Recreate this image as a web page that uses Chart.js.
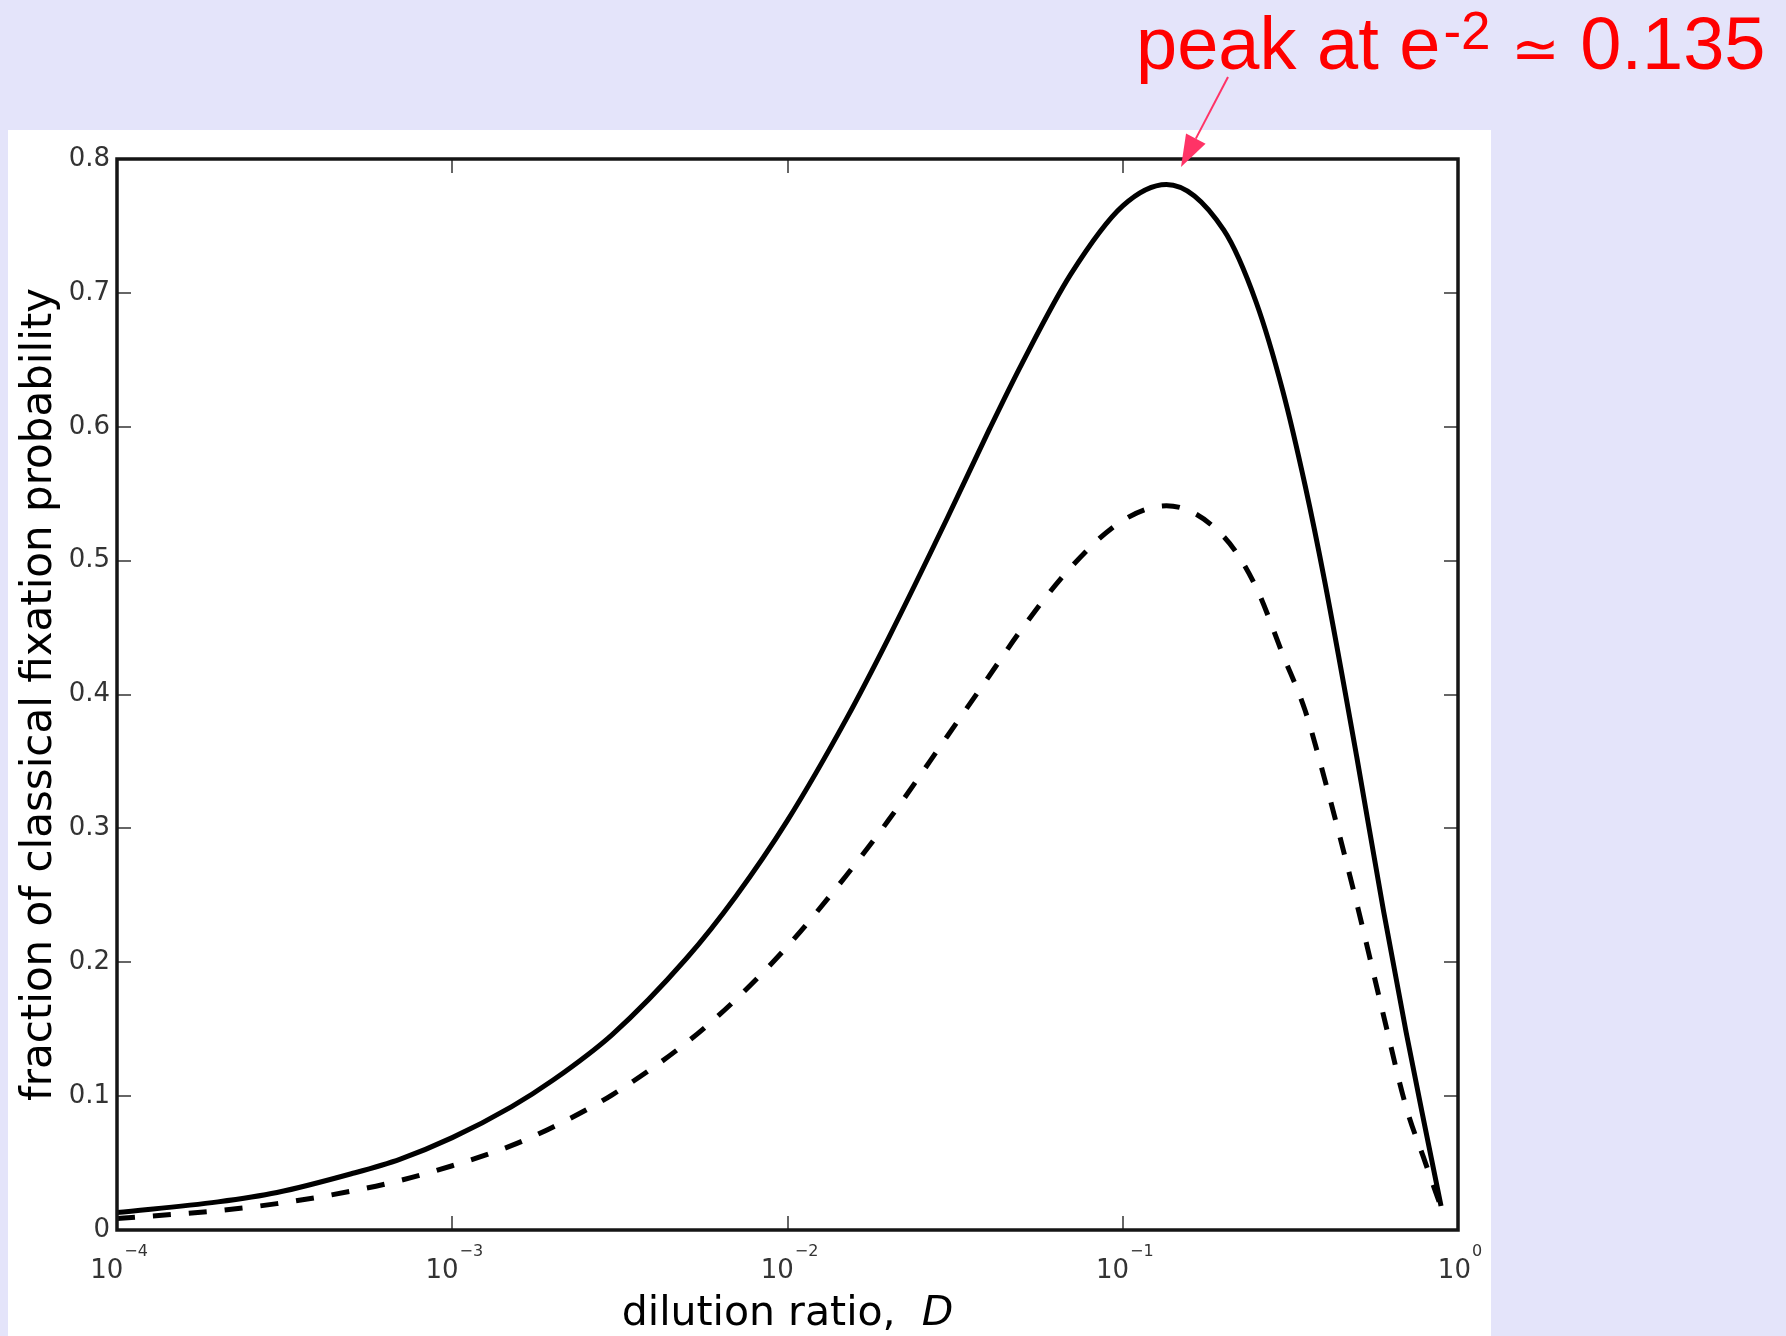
<!DOCTYPE html>
<html>
<head>
<meta charset="utf-8">
<script src="https://cdn.jsdelivr.net/npm/chart.js@4.4.1/dist/chart.umd.min.js"></script>
<style>
  html, body { margin: 0; padding: 0; }
  body { width: 1786px; height: 1336px; background: #e4e4fa; position: relative; overflow: hidden; }
  #panel { position: absolute; left: 8px; top: 130px; width: 1483px; height: 1206px; background: #fff; }
  #chart { position: absolute; left: 0; top: 0; }
  #note { position: absolute; left: 1136px; top: 7px; font: 74px/74px "Liberation Sans", Arial, sans-serif; color: #ff0000; white-space: nowrap; }
  #note .sup { position: relative; top: -20px; font-size: 53px; margin-left: 3px; }
  #note .sim { font-family: "DejaVu Sans", sans-serif; font-size: 58px; }
</style>
</head>
<body>
<div id="panel"></div>
<canvas id="chart" width="1786" height="1336"></canvas>
<div id="note">peak at e<span class="sup">-2</span> <span class="sim">≃</span> 0.135</div>

<script>
// dilution ratio D (log axis)
const dilution = [1e-4, 2e-4, 3e-4, 5e-4, 7e-4, 1e-3, 1.5e-3, 2e-3, 3e-3, 5e-3, 7e-3,
    1e-2, 1.5e-2, 2e-2, 3e-2, 4e-2, 5e-2, 7e-2, 0.1, 0.135, 0.2, 0.25, 0.3, 0.35, 0.4, 0.5,
    0.6, 0.7, 0.8, 0.89];
// solid curve
const solidFraction = [0.013, 0.021, 0.028, 0.042, 0.053, 0.069, 0.092, 0.112, 0.146, 0.203, 0.249,
    0.306, 0.382, 0.442, 0.532, 0.598, 0.647, 0.714, 0.765, 0.781, 0.747, 0.693, 0.627, 0.556, 0.485, 0.352,
    0.238, 0.148, 0.075, 0.018];
// dashed curve
const dashedFraction = [0.0085, 0.0145, 0.0197, 0.029, 0.037, 0.048, 0.063, 0.077, 0.101, 0.140, 0.172,
    0.212, 0.265, 0.306, 0.369, 0.414, 0.449, 0.495, 0.530, 0.541, 0.518, 0.480, 0.430, 0.388, 0.337, 0.243,
    0.160, 0.092, 0.050, 0.017];

const xTickValues = [1e-4, 1e-3, 1e-2, 1e-1, 1];
const xTickExponents = ['\u22124', '\u22123', '\u22122', '\u22121', '0'];
const yTickLabels = ['0', '0.1', '0.2', '0.3', '0.4', '0.5', '0.6', '0.7', '0.8'];

const TICK_LEN = 14;

// frame, inward ticks, x labels, x title, annotation arrow
const matlabAxes = {
    id: 'matlabAxes',
    afterDatasetsDraw(chart) {
        const { ctx, chartArea: a, scales: { x, y } } = chart;
        ctx.save();

        ctx.strokeStyle = '#666';
        ctx.lineWidth = 2;
        ctx.beginPath();
        y.ticks.forEach(t => {
            const py = Math.round(y.getPixelForValue(t.value));
            ctx.moveTo(a.left, py); ctx.lineTo(a.left + TICK_LEN, py);
            ctx.moveTo(a.right, py); ctx.lineTo(a.right - TICK_LEN, py);
        });
        x.ticks.forEach(t => {
            const px = Math.round(x.getPixelForValue(t.value));
            ctx.moveTo(px, a.bottom); ctx.lineTo(px, a.bottom - TICK_LEN);
            ctx.moveTo(px, a.top); ctx.lineTo(px, a.top + TICK_LEN);
        });
        ctx.stroke();

        ctx.strokeStyle = '#151515';
        ctx.lineWidth = 3.5;
        ctx.strokeRect(a.left, a.top, a.right - a.left, a.bottom - a.top);

        // x tick labels 10^n
        ctx.fillStyle = '#333';
        ctx.textAlign = 'left';
        ctx.textBaseline = 'alphabetic';
        x.ticks.forEach((t, i) => {
            const px = x.getPixelForValue(t.value);
            ctx.font = '26px "DejaVu Sans"';
            const wBase = ctx.measureText('10').width;
            ctx.font = '16px "DejaVu Sans"';
            const wExp = ctx.measureText(xTickExponents[i]).width;
            const left = px + 2 - (wBase + 1 + wExp) / 2;
            ctx.font = '26px "DejaVu Sans"';
            ctx.fillText('10', left, a.bottom + 48);
            ctx.font = '16px "DejaVu Sans"';
            ctx.fillText(xTickExponents[i], left + wBase + 1, a.bottom + 26);
        });

        // x axis title with italic D
        ctx.fillStyle = '#000';
        ctx.font = '41px "DejaVu Sans"';
        const main = 'dilution ratio,  ';
        const wMain = ctx.measureText(main).width;
        ctx.font = 'italic 41px "DejaVu Sans"';
        const wD = ctx.measureText('D').width;
        const start = (a.left + a.right) / 2 - (wMain + wD) / 2;
        ctx.font = '41px "DejaVu Sans"';
        ctx.fillText(main, start, 1325);
        ctx.font = 'italic 41px "DejaVu Sans"';
        ctx.fillText('D', start + wMain, 1325);

        // annotation arrow
        const from = { x: 1228, y: 77 }, tip = { x: 1181, y: 167 };
        const dx = tip.x - from.x, dy = tip.y - from.y, len = Math.hypot(dx, dy);
        const ux = dx / len, uy = dy / len;
        const bx = tip.x - 32 * ux, by = tip.y - 32 * uy;
        ctx.strokeStyle = '#ff3366';
        ctx.fillStyle = '#ff3366';
        ctx.lineWidth = 2;
        ctx.beginPath();
        ctx.moveTo(from.x, from.y);
        ctx.lineTo(bx, by);
        ctx.stroke();
        ctx.beginPath();
        ctx.moveTo(tip.x, tip.y);
        ctx.lineTo(bx + 11 * uy, by - 11 * ux);
        ctx.lineTo(bx - 11 * uy, by + 11 * ux);
        ctx.closePath();
        ctx.fill();

        ctx.restore();
    }
};

new Chart(document.getElementById('chart'), {
    type: 'line',
    data: {
        labels: dilution,
        datasets: [{
            data: dilution.map((d, i) => ({ x: d, y: solidFraction[i] })),
            borderColor: '#000',
            borderWidth: 5,
            pointRadius: 0,
            cubicInterpolationMode: 'monotone',
            fill: false
        }, {
            data: dilution.map((d, i) => ({ x: d, y: dashedFraction[i] })),
            borderColor: '#000',
            borderWidth: 5,
            borderDash: [18, 18],
            pointRadius: 0,
            cubicInterpolationMode: 'monotone',
            fill: false
        }]
    },
    options: {
        responsive: false,
        animation: false,
        devicePixelRatio: 1,
        layout: { padding: { left: 0, top: 159, right: 328, bottom: 0 } },
        plugins: { legend: { display: false }, tooltip: { enabled: false } },
        scales: {
            x: {
                type: 'logarithmic',
                min: 1e-4,
                max: 1,
                grid: { display: false, drawTicks: false },
                border: { display: false },
                ticks: { display: false },
                afterBuildTicks: scale => { scale.ticks = xTickValues.map(v => ({ value: v })); },
                afterFit: scale => { scale.height = 106; }
            },
            y: {
                min: 0,
                max: 0.8,
                grid: { display: false, drawTicks: false },
                border: { display: false },
                ticks: {
                    stepSize: 0.1,
                    padding: 7,
                    color: '#333',
                    font: { family: 'DejaVu Sans', size: 26 },
                    callback: (v, i) => yTickLabels[i]
                },
                title: {
                    display: true,
                    text: 'fraction of classical fixation probability',
                    color: '#000',
                    font: { family: 'DejaVu Sans', size: 42 },
                    padding: { top: 15, bottom: 0 }
                },
                afterFit: scale => { scale.width = 117; }
            }
        }
    },
    plugins: [matlabAxes]
});
</script>
</body>
</html>
